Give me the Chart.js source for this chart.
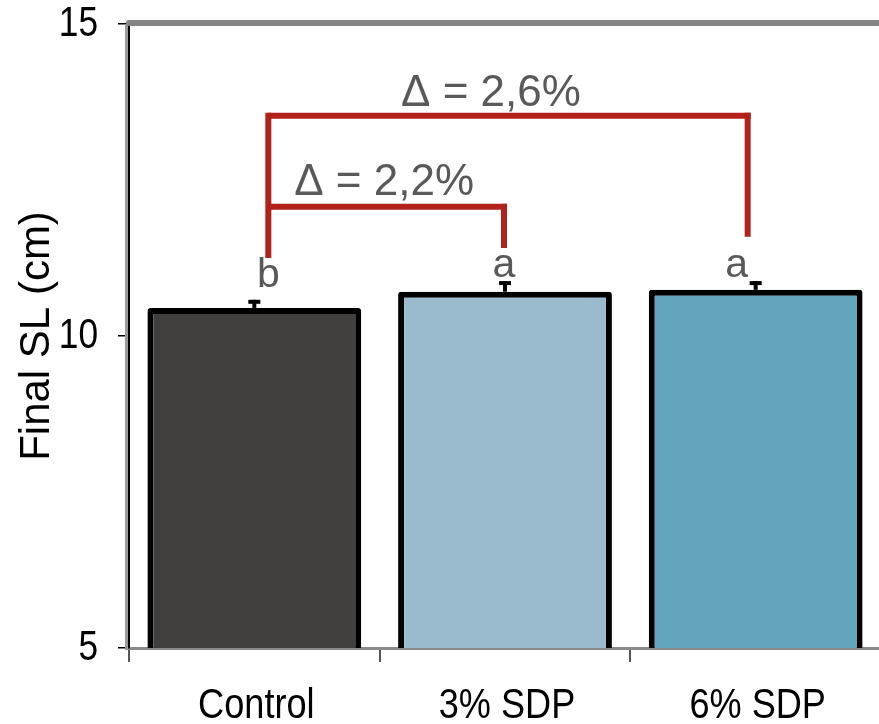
<!DOCTYPE html>
<html>
<head>
<meta charset="utf-8">
<script src="https://cdn.jsdelivr.net/npm/chart.js@4.4.0/dist/chart.umd.min.js"></script>
<style>
  html, body { margin: 0; padding: 0; background: #fff; overflow: hidden; }
  #wrap { width: 881px; height: 724px; }
</style>
</head>
<body>
<div id="wrap"><canvas id="finalSL" width="881" height="724"></canvas></div>
<script>
// data
const categories = ['Control', '3% SDP', '6% SDP'];
const meanSL = [10.45, 10.71, 10.74];
const semSL = [0.13, 0.17, 0.14];
const groupLetters = ['b', 'a', 'a'];
const letterLevel = [10.79, 10.95, 10.95];
const yTicks = [5, 10, 15];

// significance brackets (Control vs. each diet)
const bracketFrom = [0, 0];
const bracketTo = [2, 1];
const bracketLevel = [13.53, 12.07];
const bracketLegEnd = [11.59, 11.41];
const bracketLabels = ['\u0394 = 2,6%', '\u0394 = 2,2%'];
const bracketLabelLevel = [13.69, 12.26];
const leftLegEnd = 11.25;

const barColors = ['#41403f', '#9abbcd', '#63a4bf'];
const red = '#b2221a';
const grey = '#595959';
const sans = "'Liberation Sans', Arial, sans-serif";

Chart.defaults.font.family = sans;

const line = function(ctx, x1, y1, x2, y2) {
    ctx.beginPath();
    ctx.moveTo(x1, y1);
    ctx.lineTo(x2, y2);
    ctx.stroke();
}

// narrow text (the figure uses Arial Narrow): squeeze with fillText's maxWidth
const narrowText = function(ctx, text, px, py) {
    const w = ctx.measureText(text).width;
    ctx.fillText(text, px, py, w * 0.84);
}

const annotate = {
    id: 'annotate',
    beforeDatasetsDraw(chart) {
        const ctx = chart.ctx, a = chart.chartArea;
        const x = chart.scales.x, y = chart.scales.y;
        ctx.save();
        // grey shadow left of the y axis
        ctx.strokeStyle = '#9a9a9a';
        ctx.lineWidth = 3;
        line(ctx, a.left - 2.5, a.top, a.left - 2.5, a.bottom + 2);

        // tick labels
        ctx.fillStyle = '#000';
        ctx.font = '42px ' + sans;
        ctx.textAlign = 'right';
        ctx.textBaseline = 'middle';
        y.ticks.forEach(function(t) {
            narrowText(ctx, String(t.value), a.left - 31, y.getPixelForValue(t.value));
        });
        ctx.font = '43px ' + sans;
        ctx.textAlign = 'center';
        ctx.textBaseline = 'alphabetic';
        x.getLabels().forEach(function(lbl, i) {
            narrowText(ctx, lbl, x.getPixelForValue(i) + 2, a.bottom + 70);
        });
        ctx.restore();
    },
    afterDatasetsDraw(chart) {
        const ctx = chart.ctx, a = chart.chartArea;
        const x = chart.scales.x, y = chart.scales.y;
        ctx.save();

        // top frame line
        ctx.strokeStyle = '#858585';
        ctx.lineWidth = 6;
        ctx.lineCap = 'round';
        line(ctx, a.left, a.top - 1, a.right + 10, a.top - 1);
        ctx.lineCap = 'butt';

        // error bars
        ctx.strokeStyle = '#000';
        meanSL.forEach(function(m, i) {
            const cx = x.getPixelForValue(i);
            const yt = y.getPixelForValue(m + semSL[i]);
            const yb = y.getPixelForValue(m);
            ctx.lineWidth = 4;
            line(ctx, cx, yb, cx, yt);
            line(ctx, cx - 6, yt + 2, cx + 6, yt + 2);
        });

        // letters
        const letterOffset = [14, -1, -19];
        ctx.fillStyle = grey;
        ctx.font = '41px ' + sans;
        ctx.textAlign = 'center';
        ctx.textBaseline = 'alphabetic';
        groupLetters.forEach(function(t, i) {
            ctx.fillText(t, x.getPixelForValue(i) + letterOffset[i], y.getPixelForValue(letterLevel[i]));
        });

        // brackets
        const leftX = x.getPixelForValue(0) + 14;
        const rightOffset = [-8, -1];
        const labelOffset = [-17, -2];
        ctx.strokeStyle = red;
        ctx.lineWidth = 6;
        line(ctx, leftX, y.getPixelForValue(bracketLevel[0]) - 3, leftX, y.getPixelForValue(leftLegEnd));
        ctx.font = '44px ' + sans;
        bracketLabels.forEach(function(lbl, i) {
            const rx = x.getPixelForValue(bracketTo[i]) + rightOffset[i];
            const by = y.getPixelForValue(bracketLevel[i]);
            line(ctx, leftX, by, rx + 3, by);
            line(ctx, rx, by - 3, rx, y.getPixelForValue(bracketLegEnd[i]));
            ctx.fillText(lbl, (leftX + rx) / 2 + labelOffset[i], y.getPixelForValue(bracketLabelLevel[i]));
        });
        ctx.restore();
    }
}

new Chart(document.getElementById('finalSL').getContext('2d'), {
    type: 'bar',
    data: {
        labels: categories,
        datasets: [{
            data: meanSL,
            backgroundColor: barColors,
            borderColor: '#000',
            borderWidth: 6,
            borderRadius: 3,
            borderSkipped: false,
            barPercentage: 0.853,
            categoryPercentage: 1
        }]
    },
    options: {
        responsive: false,
        animation: false,
        layout: { padding: { top: 24, right: 0, bottom: 0, left: 0 } },
        plugins: { legend: { display: false }, tooltip: { enabled: false } },
        scales: {
            x: {
                afterFit: function(s) { s.height = 76; s.paddingLeft = 0; s.paddingRight = 0; },
                border: { color: '#8a8a8a', width: 3 },
                grid: { drawOnChartArea: false, tickLength: 14, color: '#555', lineWidth: 2 },
                ticks: { display: false }
            },
            y: {
                min: 5,
                max: 15,
                afterFit: function(s) { s.width = 129; s.paddingTop = 0; s.paddingBottom = 0; },
                afterBuildTicks: function(s) { s.ticks = yTicks.map(function(v) { return { value: v }; }); },
                border: { color: '#000', width: 2 },
                grid: { drawOnChartArea: false, tickLength: 11, color: '#000', lineWidth: 1.5 },
                ticks: { display: false },
                title: {
                    display: true,
                    text: 'Final SL (cm)',
                    color: '#000',
                    padding: { top: 12, bottom: 0 },
                    font: { size: 42, lineHeight: 1.2 }
                }
            }
        }
    },
    plugins: [annotate]
});
</script>
</body>
</html>
